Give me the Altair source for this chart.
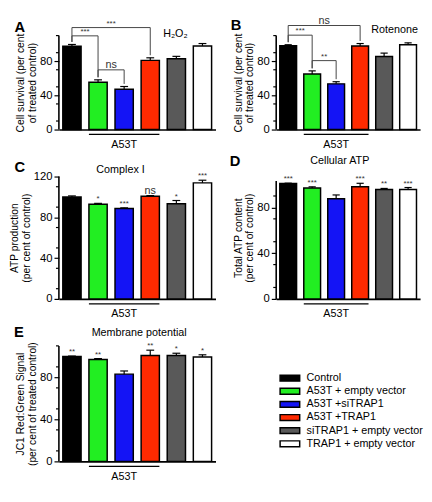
import altair as alt
import pandas as pd

FONT = "Liberation Sans"

groups = ["Control", "A53T + empty vector", "A53T +siTRAP1", "A53T +TRAP1",
          "siTRAP1 + empty vector", "TRAP1 + empty vector"]
colors = ["#000000", "#22ee22", "#1414f5", "#ff2a00", "#595959", "#ffffff"]

# Panel A  (H2O2)
a_vals = [97.5, 55.5, 47.2, 81.0, 82.9, 97.9]
a_errs = [2.1, 2.7, 3.2, 3.0, 2.8, 2.8]
a_brackets = [("Control", "A53T + empty vector", 109.7, "***"),
              ("Control", "A53T +TRAP1", 119.4, "***"),
              ("A53T + empty vector", "A53T +siTRAP1", 69.9, "ns")]
# Panel B  (Rotenone)
b_vals = [98.2, 65.1, 53.5, 97.8, 85.5, 99.3]
b_errs = [1.1, 3.6, 2.5, 2.9, 4.0, 2.2]
b_brackets = [("Control", "A53T + empty vector", 110.5, "***"),
              ("Control", "A53T +TRAP1", 121.8, "ns"),
              ("A53T + empty vector", "A53T +siTRAP1", 80.7, "**")]
# Panel C  (Complex I)
c_vals = [100.0, 92.8, 88.7, 100.6, 93.4, 113.8]
c_errs = [1.0, 0.9, 0.6, 0.7, 3.1, 2.6]
c_stars = ["", "*", "***", "ns", "*", "***"]
# Panel D  (Cellular ATP)
d_vals = [100.9, 96.9, 87.5, 98.0, 95.7, 95.7]
d_errs = [0.3, 1.1, 3.4, 3.1, 0.9, 1.7]
d_stars = ["***", "***", "", "***", "**", "***"]
# Panel E  (Membrane potential)
e_vals = [100.0, 97.0, 83.1, 100.9, 100.9, 99.4]
e_errs = [0.3, 0.9, 3.0, 5.0, 2.1, 2.1]
e_stars = ["**", "**", "", "**", "*", "*"]

no_stars = ["", "", "", "", "", ""]
major_100 = [0, 20, 40, 60, 80, 100]
major_120 = [0, 20, 40, 60, 80, 100, 120]
minor_110 = [10, 30, 50, 70, 90, 110]
minor_100 = [10, 30, 50, 70, 90]

a53t_first, a53t_last, a53t_label = "A53T + empty vector", "A53T +TRAP1", "A53T"

HALF = 0.35   # half bar width (x units)
CAP = 0.15    # half error-cap width
GAP = 3.0     # gap between bracket leg and error cap (y units)

cscale = alt.Scale(domain=groups, range=colors)


def make_panel(letter, vals, errs, stars, brackets, ymax, axis_top, major, minor, ytitle,
               width, height, letter_xy, heading, heading_xy):
    n = len(groups)
    df = pd.DataFrame({"group": groups, "pos": list(range(n)), "val": vals,
                       "err": errs, "star": stars})
    df["left"] = df["pos"] - HALF
    df["right"] = df["pos"] + HALF
    df["top"] = df["val"] + df["err"]
    df["capl"] = df["pos"] - CAP
    df["capr"] = df["pos"] + CAP

    xs = alt.Scale(domain=[-0.5, 5.5], nice=False, zero=False)
    ys = alt.Scale(domain=[0, ymax], nice=False)
    xaxis = alt.Axis(title=None, labels=False, ticks=False, grid=False, domain=True,
                     domainColor="black", domainWidth=1.6)
    yaxis = alt.Axis(title=ytitle, values=major, grid=False, domain=False,
                     labelOverlap=False, labelSeparation=-30, labelBound=False,
                     labelFlush=False,
                     tickSize=5, tickColor="black", tickWidth=1.2,
                     labelFont=FONT, labelFontSize=11.5, labelColor="black", labelPadding=2,
                     titleFont=FONT, titleFontSize=10.5, titleFontWeight="normal",
                     titleColor="black", titlePadding=2, titleLineHeight=12)

    base = alt.Chart(df)
    bars = base.mark_rect(stroke="black", strokeWidth=1.5).encode(
        x=alt.X("left:Q", scale=xs, axis=xaxis), x2="right:Q",
        y=alt.Y("val:Q", scale=ys, axis=yaxis), y2=alt.datum(0),
        fill=alt.Fill("group:N", scale=cscale, legend=None))
    err = base.mark_rule(color="black", strokeWidth=1.2).encode(
        x="pos:Q", y="val:Q", y2="top:Q")
    cap = base.mark_rule(color="black", strokeWidth=1.2).encode(
        x="capl:Q", x2="capr:Q", y="top:Q", y2="top:Q")
    yline = alt.Chart(pd.DataFrame({"lo": [0], "hi": [axis_top]})).mark_rule(
        color="black", strokeWidth=1.6).encode(x=alt.value(0), y="lo:Q", y2="hi:Q")
    mticks = alt.Chart(pd.DataFrame({"m": minor})).mark_rule(
        color="black", strokeWidth=1.2).encode(x=alt.value(-3), x2=alt.value(0), y="m:Q")

    layers = [bars, err, cap, yline, mticks]

    if any(s for s in stars):
        st = base.transform_filter("datum.star != ''").mark_text(
            font=FONT, baseline="alphabetic", dy=-2, color="#333333").encode(
            x="pos:Q", y="top:Q", text="star:N",
            size=alt.condition("datum.star === 'ns'", alt.value(11), alt.value(8)))
        layers.append(st)

    if brackets:
        tops = dict(zip(groups, df["top"]))
        idx = {g: i for i, g in enumerate(groups)}
        segs, labs = [], []
        for ga, gb, level, lab in brackets:
            a, b = idx[ga], idx[gb]
            segs.append({"sx": a, "sx2": b, "sy": level, "sy2": level})
            segs.append({"sx": a, "sx2": a, "sy": level, "sy2": tops[ga] + GAP})
            segs.append({"sx": b, "sx2": b, "sy": level, "sy2": tops[gb] + GAP})
            labs.append({"lx": (a + b) / 2, "ly": level, "lab": lab})
        bseg = alt.Chart(pd.DataFrame(segs)).mark_rule(color="#444444", strokeWidth=1).encode(
            x="sx:Q", x2="sx2:Q", y="sy:Q", y2="sy2:Q")
        blab = alt.Chart(pd.DataFrame(labs)).mark_text(
            font=FONT, baseline="alphabetic", dy=-2, color="#333333").encode(
            x="lx:Q", y="ly:Q", text="lab:N",
            size=alt.condition("datum.lab === 'ns'", alt.value(11), alt.value(8)))
        layers += [bseg, blab]

    i0, i1 = groups.index(a53t_first), groups.index(a53t_last)
    span = pd.DataFrame({"label": [a53t_label], "start": [i0 - HALF],
                         "end": [i1 + HALF], "mid": [(i0 + i1) / 2]})
    under = alt.Chart(span).mark_rule(color="black", strokeWidth=1.3).encode(
        x="start:Q", x2="end:Q", y=alt.value(height + 5))
    ulab = alt.Chart(span).mark_text(font=FONT, fontSize=11, baseline="middle").encode(
        x="mid:Q", y=alt.value(height + 16), text="label:N")
    layers += [under, ulab]

    let = alt.Chart(pd.DataFrame({"t": [letter]})).mark_text(
        font=FONT, fontSize=15, fontWeight="bold", baseline="middle").encode(
        x=alt.value(letter_xy[0]), y=alt.value(letter_xy[1]), text="t:N")
    hd = alt.Chart(pd.DataFrame({"t": [heading]})).mark_text(
        font=FONT, fontSize=11, baseline="middle").encode(
        x=alt.value(heading_xy[0]), y=alt.value(heading_xy[1]), text="t:N")
    layers += [let, hd]

    return alt.layer(*layers).properties(width=width, height=height)


surv_title = ["Cell survival (per cent", "of treated control)"]

pA = make_panel("A", a_vals, a_errs, no_stars, a_brackets, 110, 110, major_100, minor_110,
                surv_title, 160, 96, (-40, -9), "H₂O₂", (119, -2))
pB = make_panel("B", b_vals, b_errs, no_stars, b_brackets, 110, 110, major_100, minor_110,
                surv_title, 147, 96, (-41, -11), "Rotenone", (121, -6))
pC = make_panel("C", c_vals, c_errs, c_stars, None, 120, 120, major_120, minor_110,
                ["ATP production", "(per cent of control)"],
                160, 125, (-40, -10), "Complex I", (63, -7))
pD = make_panel("D", d_vals, d_errs, d_stars, None, 107, 103, major_100, minor_100,
                ["Total ATP content", "(per cent of control)"],
                147, 125, (-42, -16), "Cellular ATP", (65, -16))
pE = make_panel("E", e_vals, e_errs, e_stars, None, 110, 110, major_100, minor_110,
                ["JC1 Red:Green Signal", "(per cent of treated control)"],
                160, 118, (-41, -14), "Membrane potential", (82, -13))

# legend panel
leg = pd.DataFrame({"group": groups, "idx": list(range(len(groups)))})
ly = alt.Scale(domain=[-2.46, 6.34], reverse=True, nice=False, zero=False)
sw = alt.Chart(leg).mark_point(
    shape="M-1,-0.3H1V0.3H-1Z", size=400, filled=True, stroke="black",
    strokeWidth=1.5, opacity=1).encode(
    x=alt.value(14), y=alt.Y("idx:Q", scale=ly, axis=None),
    fill=alt.Fill("group:N", scale=cscale, legend=None))
lt = alt.Chart(leg).mark_text(font=FONT, fontSize=11, align="left", baseline="middle").encode(
    x=alt.value(31), y=alt.Y("idx:Q", scale=ly, axis=None), text="group:N")
pL = alt.layer(sw, lt).properties(width=147, height=118)

chart = alt.concat(pA, pB, pC, pD, pE, pL, columns=2,
                   spacing={"row": 48, "column": 62}, bounds="flush").properties(
    padding={"left": 1, "top": 1, "right": 1, "bottom": 1}
).configure_view(stroke=None).configure_text(font=FONT).configure_axis(labelOverlap=False)

chart.save("out.html", embed_options={"renderer": "svg", "actions": False})
